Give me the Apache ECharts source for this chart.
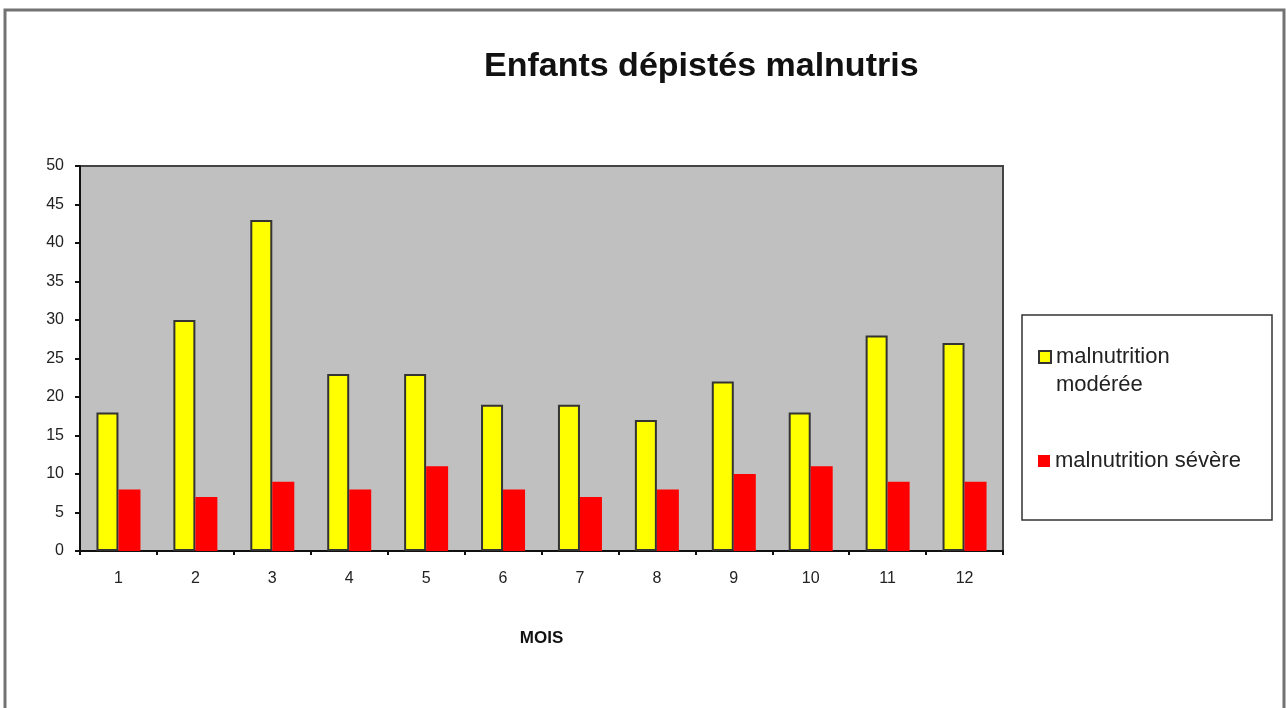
<!DOCTYPE html>
<html>
<head>
<meta charset="utf-8">
<title>Enfants dépistés malnutris</title>
<script src="https://cdn.jsdelivr.net/npm/echarts@6/dist/echarts.min.js"></script>
<style>
  html, body { margin: 0; padding: 0; background: #fff; }
  #chart { width: 1286px; height: 708px; }
</style>
</head>
<body>
<div id="chart"></div>
<script>
const months = ['1', '2', '3', '4', '5', '6', '7', '8', '9', '10', '11', '12']
const moderee = [18, 30, 43, 23, 23, 19, 19, 17, 22, 18, 28, 27]
const severe = [8, 7, 9, 8, 11, 8, 7, 8, 10, 11, 9, 9]
const yTicks = [0, 50, 5]

const FONT = '"Liberation Sans", Arial, sans-serif'

const chart = echarts.init(document.getElementById('chart'))

chart.setOption({
  animation: false,
  backgroundColor: '#fff',
  textStyle: { fontFamily: FONT },
  title: {
    text: 'Enfants dépistés malnutris',
    left: 479,
    top: 45,
    textStyle: {
      fontFamily: FONT,
      fontSize: 34,
      fontWeight: 'bold',
      color: '#111',
    },
  },
  graphic: [
    {
      type: 'rect',
      silent: true,
      z: -10,
      shape: { x: 5, y: 10, width: 1279, height: 730 },
      style: { fill: 'none', stroke: '#737373', lineWidth: 3 },
    },
    {
      type: 'rect',
      silent: true,
      z: -10,
      shape: { x: 1022, y: 315, width: 250, height: 205 },
      style: { fill: '#fff', stroke: '#333', lineWidth: 1.5 },
    },
  ],
  legend: [
    {
      data: ['malnutrition modérée'],
      left: 1038,
      top: 315,
      padding: 0,
      itemWidth: 12,
      itemHeight: 12,
      icon: 'rect',
      // leading blank line keeps the icon next to the first line
      formatter: () => ' \nmalnutrition\nmodérée',
      textStyle: {
        fontFamily: FONT,
        fontSize: 22,
        lineHeight: 28,
        color: '#222',
      },
    },
    {
      data: ['malnutrition sévère'],
      left: 1038,
      top: 447,
      padding: 0,
      itemWidth: 12,
      itemHeight: 12,
      icon: 'rect',
      textStyle: {
        fontFamily: FONT,
        fontSize: 22,
        lineHeight: 28,
        color: '#222',
      },
    },
  ],
  grid: {
    left: 80,
    top: 166,
    right: 283,
    bottom: 157,
    show: true,
    backgroundColor: '#c0c0c0',
    borderColor: '#444',
    borderWidth: 2,
  },
  xAxis: {
    type: 'category',
    data: months,
    name: 'MOIS',
    nameLocation: 'middle',
    nameGap: 79,
    nameTextStyle: {
      fontFamily: FONT,
      fontSize: 17,
      fontWeight: 'bold',
      color: '#111',
    },
    axisLine: { lineStyle: { color: '#111', width: 2 } },
    axisTick: { show: true, length: 4, lineStyle: { color: '#111', width: 2 } },
    axisLabel: { fontFamily: FONT, fontSize: 16, color: '#222', margin: 20 },
  },
  yAxis: {
    type: 'value',
    min: yTicks[0],
    max: yTicks[1],
    interval: yTicks[2],
    axisLine: { show: true, lineStyle: { color: '#111', width: 2 } },
    axisTick: { show: true, length: 5, lineStyle: { color: '#111', width: 2 } },
    splitLine: { show: false },
    axisLabel: { fontFamily: FONT, fontSize: 16, color: '#222', margin: 16 },
  },
  series: [
    {
      name: 'malnutrition modérée',
      type: 'bar',
      data: moderee,
      barWidth: 22,
      barGap: '0%',
      itemStyle: { color: '#ffff00', borderColor: '#333', borderWidth: 2 },
    },
    {
      name: 'malnutrition sévère',
      type: 'bar',
      data: severe,
      barWidth: 22,
      barGap: '0%',
      itemStyle: { color: '#ff0000' },
    },
  ],
})
</script>
</body>
</html>
